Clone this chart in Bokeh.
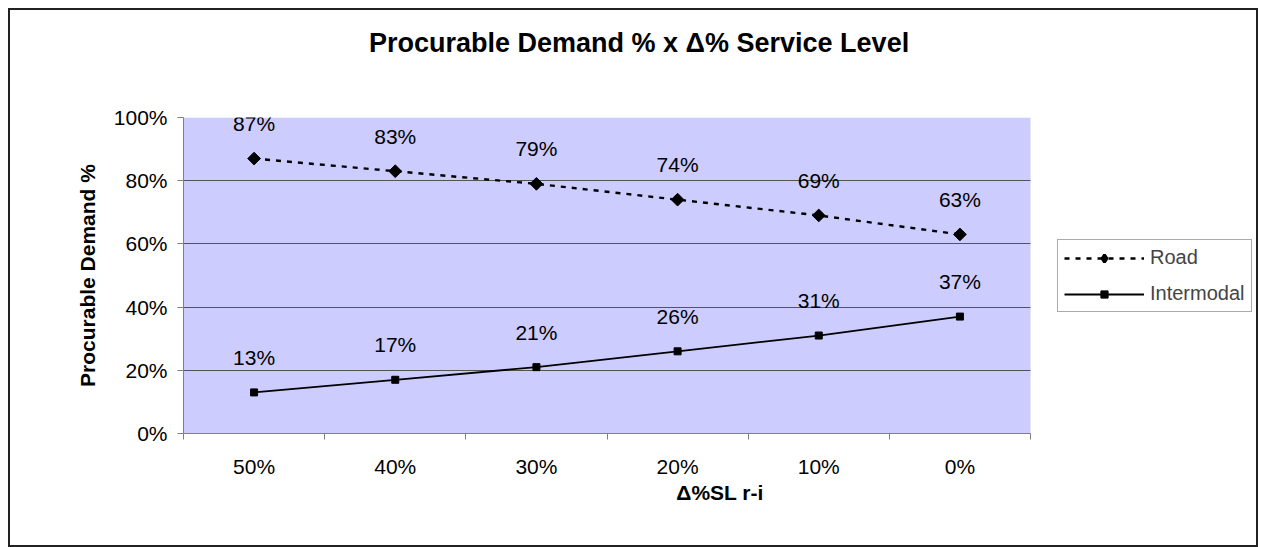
from bokeh.plotting import figure
from bokeh.layouts import column
from bokeh.models import (Range1d, FixedTicker, NumeralTickFormatter, ColumnDataSource,
                          LabelSet, Legend, LegendItem, BoxAnnotation, Div)
from bokeh.core.properties import value
from bokeh.embed import file_html
from bokeh.resources import INLINE
import math

categories = ["50%", "40%", "30%", "20%", "10%", "0%"]
road = [0.87, 0.83, 0.79, 0.74, 0.69, 0.63]
intermodal = [0.13, 0.17, 0.21, 0.26, 0.31, 0.37]
y_ticks = [0.0, 0.2, 0.4, 0.6, 0.8, 1.0]
title_text = "Procurable Demand % x \u0394% Service Level"

FONT = "Liberation Sans"
W = 1246                  # figure width (inside the 2px border)
DH = 70                   # height of title strip
H = 465                   # figure height
ML, MT = 173, 37
FW, FH = 847, 316         # plotting area of the chart (blue box)
N = len(categories)

xs = [i + 0.5 for i in range(N)]
x_end = N * (W - ML) / FW   # frame extends to the right edge to host the legend

title_div = Div(text=(f'<div style="padding-left:359px; padding-top:20px; '
                      f'font-family:\'{FONT}\'; font-size:27px; font-weight:bold; '
                      f'line-height:27px; color:black; white-space:nowrap">{title_text}</div>'),
                width=W, height=DH, margin=0)

p = figure(width=W, height=H, output_backend="svg", toolbar_location=None,
           x_range=Range1d(0, x_end), y_range=Range1d(0, 1),
           min_border_left=ML, min_border_right=0,
           min_border_top=MT, min_border_bottom=H - MT - FH, margin=0)
p.background_fill_color = "white"
p.border_fill_color = "white"
p.outline_line_color = None

p.add_layout(BoxAnnotation(left=0, right=N, bottom=0, top=1, fill_color="#CCCCFF",
                           fill_alpha=1, line_color=None, level="image"))

# x axis
p.xaxis.bounds = (0, N)
p.xaxis.ticker = FixedTicker(ticks=xs, minor_ticks=list(range(N + 1)))
p.xaxis.major_label_overrides = {x: c for x, c in zip(xs, categories)}
p.xaxis.major_tick_out = 0
p.xaxis.major_tick_in = 0
p.xaxis.minor_tick_out = 6
p.xaxis.minor_tick_in = 0
p.xaxis.minor_tick_line_color = "#808080"
p.xaxis.axis_line_color = "#808080"
p.xaxis.major_label_standoff = 15
p.xaxis.major_label_text_font = FONT
p.xaxis.major_label_text_font_size = "21px"
p.xaxis.major_label_text_color = "black"
p.xaxis.axis_label = "\u0394%SL r-i"
p.xaxis.axis_label_text_font = FONT
p.xaxis.axis_label_text_font_size = "21px"
p.xaxis.axis_label_text_font_style = "bold"
p.xaxis.axis_label_text_color = "black"
p.xaxis.axis_label_standoff = 0

# y axis
p.yaxis.ticker = FixedTicker(ticks=y_ticks, minor_ticks=[])
p.yaxis.formatter = NumeralTickFormatter(format="0%")
p.yaxis.major_tick_out = 6
p.yaxis.major_tick_in = 0
p.yaxis.major_tick_line_color = "#808080"
p.yaxis.axis_line_color = "#808080"
p.yaxis.major_label_standoff = 10
p.yaxis.major_label_text_font = FONT
p.yaxis.major_label_text_font_size = "21px"
p.yaxis.major_label_text_color = "black"
p.yaxis.axis_label = "Procurable Demand %"
p.yaxis.axis_label_text_font = FONT
p.yaxis.axis_label_text_font_size = "21px"
p.yaxis.axis_label_text_font_style = "bold"
p.yaxis.axis_label_text_color = "black"
p.yaxis.axis_label_standoff = 12

p.xgrid.visible = False
grid_ticks = y_ticks[1:-1]
try:
    p.ygrid.cross_bounds = (0, N)
    p.ygrid.ticker = FixedTicker(ticks=grid_ticks)
    p.ygrid.grid_line_color = "#555555"
    p.ygrid.grid_line_width = 1
except Exception:
    p.ygrid.visible = False
    p.segment(x0=[0] * len(grid_ticks), x1=[N] * len(grid_ticks), y0=grid_ticks,
              y1=grid_ticks, line_color="#555555", line_width=1, level="underlay")

src = ColumnDataSource(dict(x=xs, road=road, inter=intermodal,
                            road_lbl=[f"{round(v*100)}%" for v in road],
                            inter_lbl=[f"{round(v*100)}%" for v in intermodal]))

r_line = p.line("x", "road", source=src, line_color="black", line_width=2.4, line_dash="5 6")
# diamond used for the legend swatch (hidden beneath the rotated squares in the plot)
r_leg = p.scatter("x", "road", source=src, marker="diamond", size=7,
                  fill_color="black", line_color="black", line_width=3)
r_pts = p.scatter("x", "road", source=src, marker="square", size=9, angle=math.pi / 4,
                  fill_color="black", line_color="black")
i_line = p.line("x", "inter", source=src, line_color="black", line_width=1.8)
i_pts = p.scatter("x", "inter", source=src, marker="square", size=7,
                  fill_color="black", line_color="black")

for col, lbl in (("road", "road_lbl"), ("inter", "inter_lbl")):
    ls = LabelSet(x="x", y=col, text=lbl, source=src, y_offset=35,
                  text_align="center", text_baseline="middle",
                  text_font=value(FONT), text_font_size=value("21px"), text_color="black")
    p.add_layout(ls)

legend = Legend(items=[LegendItem(label="Road", renderers=[r_line, r_leg]),
                       LegendItem(label="Intermodal", renderers=[i_line, i_pts])],
                location=(874, 121), orientation="vertical",
                glyph_width=80, glyph_height=18, label_height=20, spacing=13,
                padding=6, margin=0, label_standoff=6,
                label_text_font=FONT, label_text_font_size="20px",
                border_line_color="#555555", border_line_width=1,
                background_fill_color="white", background_fill_alpha=1)
p.add_layout(legend, "center")

layout = column(title_div, p, spacing=0)
layout.styles = {"border": "2px solid #222222", "margin-left": "8px", "margin-top": "8px"}

open("out.html", "w").write(file_html(layout, INLINE))
